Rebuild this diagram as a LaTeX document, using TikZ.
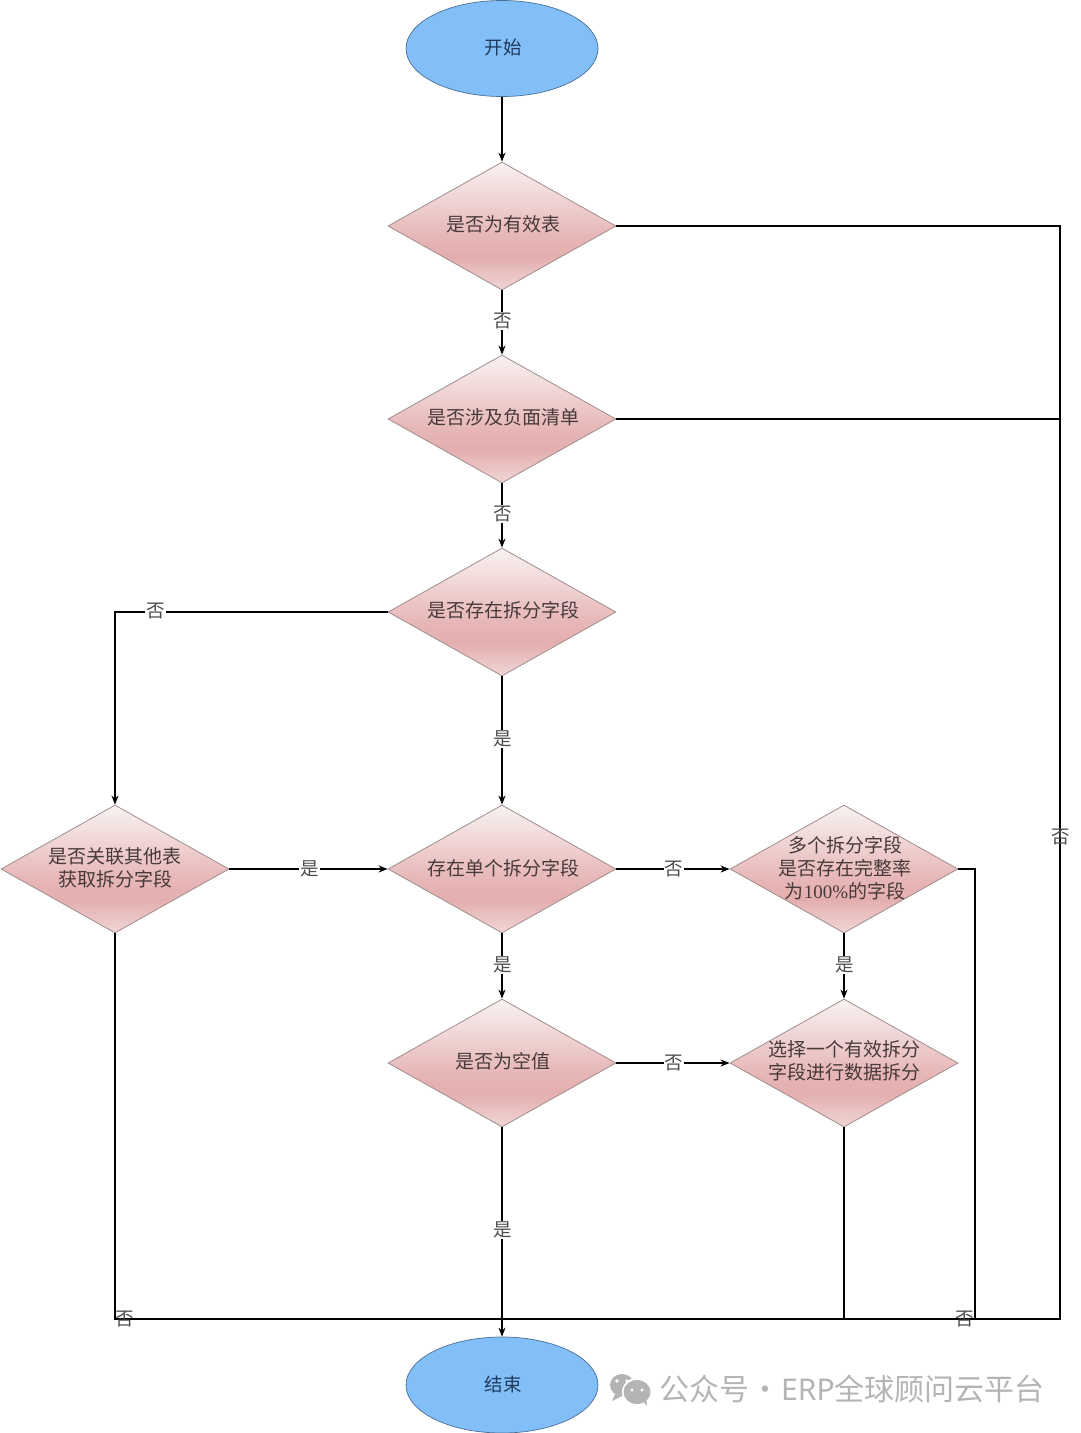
\documentclass[tikz,border=0pt]{standalone}
\usepackage{fontspec}
\setmainfont{Liberation Serif}
\newfontfamily\cjk{Noto Sans CJK SC}
\usetikzlibrary{shapes.geometric,arrows.meta}
\definecolor{dtop}{HTML}{F9F2F2}
\definecolor{dmid}{HTML}{E4AEAE}
\definecolor{dbot}{HTML}{F0D6D6}
\definecolor{dline}{HTML}{A08C8C}
\definecolor{terminalblue}{HTML}{82BEF8}
\definecolor{termtext}{HTML}{1F3A5C}
\definecolor{termline}{HTML}{4A6F96}
\definecolor{txt}{HTML}{483A3A}
\definecolor{wm}{HTML}{B4B4B4}
\pgfdeclareverticalshading{diashade}{100bp}{color(0bp)=(dbot);color(25bp)=(dbot);color(38bp)=(dmid);color(46bp)=(dmid!88!dtop);color(75bp)=(dtop);color(100bp)=(dtop)}
\tikzset{
  x=1pt,y=-1pt,
  dia/.style={diamond,draw=dline,line width=0.8pt,shading=diashade,minimum width=228pt,minimum height=128pt,inner sep=0pt,aspect=1.78},
  dtext/.style={font=\cjk\fontsize{19}{23}\selectfont,text=txt,align=center,inner sep=0pt},
  term/.style={ellipse,draw=termline,line width=0.7pt,fill=terminalblue,minimum width=192pt,minimum height=96pt,inner sep=0pt},
  ttext/.style={font=\cjk\fontsize{18.5}{22}\selectfont,text=termtext,inner sep=0pt},
  flow/.style={draw=black,line width=1.4pt},
  arr/.style={flow,-{Stealth[length=9pt,width=7pt]}},
  lab/.style={font=\cjk\fontsize{18.5}{22}\selectfont,text=black!70,fill=white,inner sep=1pt,xshift=1pt},
  labn/.style={font=\cjk\fontsize{18.5}{22}\selectfont,text=black!70,inner sep=0pt},
  wmtext/.style={font=\cjk\fontsize{30}{34}\selectfont,text=wm,inner sep=0pt,anchor=west},
}
\begin{document}
\begin{tikzpicture}
\useasboundingbox (0,0) rectangle (1080,1433);
\node[term] (start) at (502,48.5) {};
\node[term] (end) at (502,1385) {};
\node[ttext] (startt) at (503,47.5) {开始};
\node[ttext] (endt) at (503,1384) {结束};
\node[dia] (d1) at (502,226) {};
\node[dia] (d2) at (502,419) {};
\node[dia] (d3) at (502,612) {};
\node[dia] (d4) at (115,869) {};
\node[dia] (d5) at (502,869) {};
\node[dia] (d6) at (844,869) {};
\node[dia] (d7) at (502,1063) {};
\node[dia] (d8) at (844,1063) {};
\node[dtext] (t1) at (503,224.5) {是否为有效表};
\node[dtext] (t2) at (503,417.5) {是否涉及负面清单};
\node[dtext] (t3) at (503,610.5) {是否存在拆分字段};
\node[dtext] (t4) at (115,868) {是否关联其他表\\获取拆分字段};
\node[dtext] (t5) at (503,868) {存在单个拆分字段};
\node[dtext] (t6) at (845,868) {多个拆分字段\\是否存在完整率\\为{\rmfamily 100\%}的字段};
\node[dtext] (t7) at (503,1061) {是否为空值};
\node[dtext] (t8) at (844,1061) {选择一个有效拆分\\字段进行数据拆分};
\coordinate (c1) at (1060,226);
\coordinate (c2) at (1060,419);
\coordinate (c3) at (1060,1319);
\coordinate (c4) at (502,1319);
\coordinate (c5) at (115,612);
\coordinate (c6) at (115,1319);
\coordinate (c7) at (975,869);
\coordinate (c8) at (975,1319);
\coordinate (c9) at (844,1319);
\draw[arr] (start) -- (d1);
\draw[arr] (d1) -- (d2) node[lab,pos=0.47] (l1) {否};
\draw[arr] (d2) -- (d3) node[lab,pos=0.47] (l2) {否};
\draw[arr] (d3) -- (d5) node[lab,pos=0.49] (l3) {是};
\draw[arr] (d3.west) -- (c5) -- (d4.north);
\node[lab] (l4) at (154.5,611) {否};
\draw[arr] (d4) -- (d5) node[lab,pos=0.5] (l5) {是};
\draw[arr] (d5) -- (d7) node[lab,pos=0.48] (l6) {是};
\draw[arr] (d5) -- (d6) node[lab,pos=0.5] (l7) {否};
\draw[arr] (d6) -- (d8) node[lab,pos=0.48] (l8) {是};
\draw[arr] (d7) -- (d8) node[lab,pos=0.5] (l9) {否};
\draw[arr] (d7) -- (end) node[lab,pos=0.49] (l10) {是};
\draw[flow] (d1.east) -- (c1) -- (c3) -- (c4);
\draw[flow] (d2.east) -- (c2);
\draw[flow] (d4.south) -- (c6) -- (c4);
\draw[flow] (d6.east) -- (c7) -- (c8);
\draw[flow] (d8.south) -- (c9);
\node[labn] (l11) at (1061,837) {否};
\node[labn] (l12) at (964.5,1319) {否};
\node[labn] (l13) at (124.5,1319) {否};
% watermark
\fill[wm] (622,1385) ellipse (12pt and 11pt);
\fill[wm] (616,1392) -- (612,1401) -- (624,1395) -- cycle;
\fill[white] (637,1392) ellipse (15pt and 14pt);
\fill[wm] (637,1392) ellipse (13.5pt and 12pt);
\fill[wm] (642,1400) -- (647,1406) -- (646,1396) -- cycle;
\fill[white] (617,1381) circle (1.8pt);
\fill[white] (627,1381) circle (1.8pt);
\fill[white] (632,1390) circle (1.6pt);
\fill[white] (642,1390) circle (1.6pt);
\node[wmtext] (wm) at (659,1389) {公众号\hspace{1pt}·\hspace{1pt}{\fontspec{Noto Sans}ERP}全球顾问云平台};
\end{tikzpicture}
\end{document}
